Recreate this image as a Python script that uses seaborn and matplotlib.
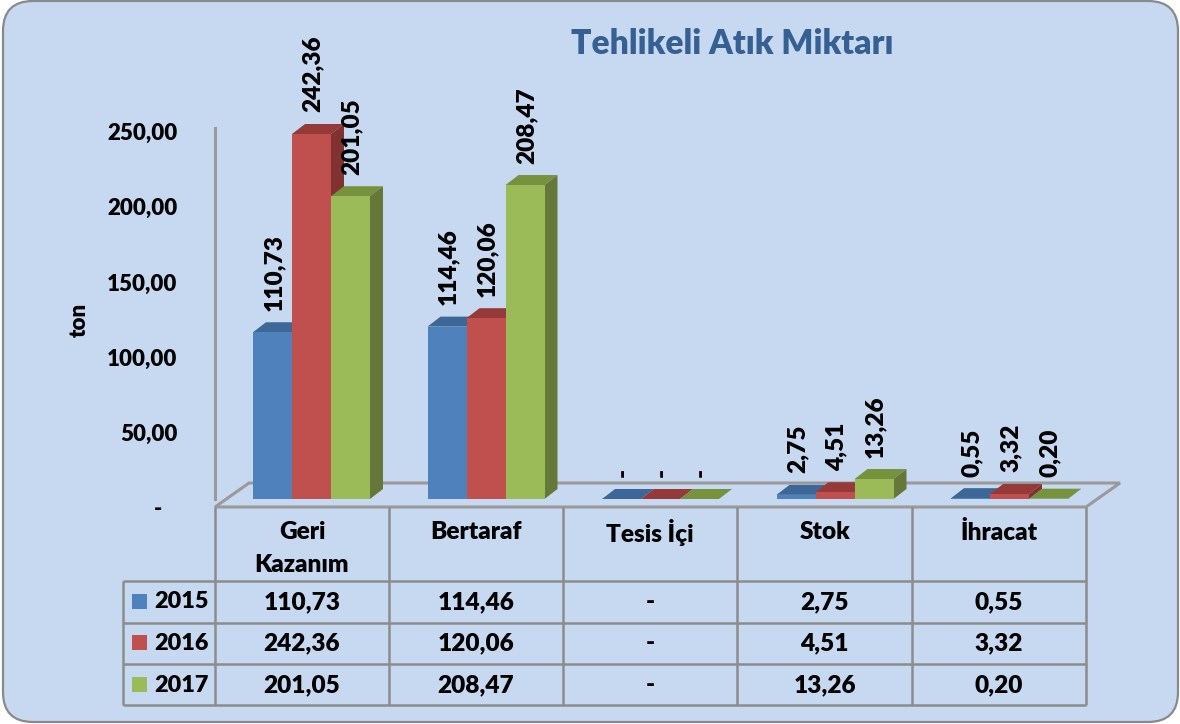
import matplotlib
matplotlib.use("Agg")
import matplotlib.pyplot as plt
from matplotlib.patches import FancyBboxPatch, Polygon, Rectangle
from matplotlib.transforms import ScaledTranslation
import seaborn as sns
import pandas as pd

categories = ["Geri\nKazanım", "Bertaraf", "Tesis İçi", "Stok", "İhracat"]
years = ["2015", "2016", "2017"]
values_2015 = [110.73, 114.46, 0, 2.75, 0.55]
values_2016 = [242.36, 120.06, 0, 4.51, 3.32]
values_2017 = [201.05, 208.47, 0, 13.26, 0.20]
y_ticks = [0, 50, 100, 150, 200, 250]
title = "Tehlikeli Atık Miktarı"
y_label = "ton"

front_colors = ["#4f81bd", "#c0504d", "#9bbb59"]
top_colors = ["#3d6796", "#953a38", "#76923c"]
side_colors = ["#3a5f8c", "#7f3230", "#66773a"]
BG = "#c6d9f1"
GRID = "#8c8c8c"
TEXT = "#000000"
FONT = "Lato"
WEIGHT = "heavy"

sns.set_theme(style="white")
plt.rcParams["font.family"] = [FONT, "DejaVu Sans"]
plt.rcParams["font.weight"] = "bold"

W, H = 1180, 724
fig = plt.figure(figsize=(W / 100, H / 100), dpi=100, facecolor="white")


def fmt(v):
    return "-" if v == 0 else f"{v:.2f}".replace(".", ",")


# background layer in pixel coordinates: frame, floor, table
bg = fig.add_axes([0, 0, 1, 1], zorder=0)
bg.set_xlim(0, W)
bg.set_ylim(H, 0)
bg.axis("off")
bg.add_patch(FancyBboxPatch((3, 1), 1175, 721, boxstyle="round,pad=0,rounding_size=1",
                            mutation_scale=30, fc=BG, ec="#8a8a8a", lw=1.6))
bg.add_patch(Polygon([(215, 507), (1086, 507), (1120, 483), (249, 483)], closed=True,
                     fc=BG, ec="#9a9a9a", lw=2.2))
col_x = [215, 389, 563, 737, 912, 1086]
row_y = [581, 623, 664, 705]
for x in col_x:
    bg.plot([x, x], [507, 705], color=GRID, lw=1.8, solid_capstyle="butt")
bg.plot([123, 123], [581, 705], color=GRID, lw=1.8, solid_capstyle="butt")
for y in row_y:
    bg.plot([123, 1086], [y, y], color=GRID, lw=1.8, solid_capstyle="butt")
bg.text(732, 44, title, color="#376092", fontsize=24.2, ha="center", va="center", fontweight=WEIGHT)

fs = 17.6
fs_tick = 16.0
fs_legend = 16.8
series = [values_2015, values_2016, values_2017]
for i, cat in enumerate(categories):
    cx = (col_x[i] + col_x[i + 1]) / 2
    for j, line in enumerate(cat.split("\n")):
        bg.text(cx, 532 + 33 * j, line, fontsize=fs, color=TEXT, ha="center", va="center", fontweight=WEIGHT)
    for r, vals in enumerate(series):
        bg.text(cx, [602, 643, 685][r], fmt(vals[i]), fontsize=fs, color=TEXT, ha="center", va="center",
                fontweight=WEIGHT)
for r, yr in enumerate(years):
    yc = [602, 643, 685][r]
    bg.add_patch(Rectangle((132, yc - 8), 15, 15, fc=front_colors[r], ec="none"))
    bg.text(154, yc, yr, fontsize=fs_legend, color=TEXT, ha="left", va="center", fontweight=WEIGHT)

# bar axes: x 215..1086 px, y 110..499 px
L, R, T, B = 215, 1086, 110, 499
ax = fig.add_axes([L / W, 1 - B / H, (R - L) / W, (B - T) / H], zorder=1)
ax.patch.set_alpha(0)
px_per_cat = 174.5
px_per_unit = 1.506

df = pd.DataFrame({
    "category": categories * 3,
    "year": [y for y in years for _ in categories],
    "value": values_2015 + values_2016 + values_2017,
})
sns.barplot(data=df, x="category", y="value", hue="year", order=categories, hue_order=years,
            palette=front_colors, saturation=1, width=117 / px_per_cat, gap=0, dodge=True,
            legend=False, linewidth=0, ax=ax)

dx = 13 / px_per_cat
dy = 10 / px_per_unit
n = len(categories)
bars = list(ax.patches)
for k, bar in enumerate(bars):
    s = k // n
    x0, w, h = bar.get_x(), bar.get_width(), bar.get_height()
    z = 3 + s
    bar.set_zorder(z + 0.2)
    ax.add_patch(Polygon([(x0, h), (x0 + w, h), (x0 + w + dx, h + dy), (x0 + dx, h + dy)],
                         closed=True, fc=top_colors[s], ec="none", zorder=z, clip_on=False))
    ax.add_patch(Polygon([(x0 + w, 0), (x0 + w + dx, dy), (x0 + w + dx, h + dy), (x0 + w, h)],
                         closed=True, fc=side_colors[s], ec="none", zorder=z, clip_on=False))
    ax.annotate(fmt(h), (x0 + w / 2, h), xytext=(1.0, 15.5), textcoords="offset points",
                rotation=90, ha="center", va="bottom", fontsize=fs, color=TEXT, fontweight=WEIGHT,
                annotation_clip=False, zorder=10)

ax.set_xticks([])
ax.set_xlabel("")
ax.set_yticks(y_ticks)
ax.set_yticklabels([fmt(v) if v else "-   " for v in y_ticks], fontsize=fs_tick, color=TEXT, fontweight=WEIGHT)
ax.set_xlim((L - 311.5) / px_per_cat, (R - 311.5) / px_per_cat)
ax.set_ylim(0, (B - T) / px_per_unit)
ax.tick_params(axis="y", length=0, pad=27)
shift = ScaledTranslation(0, -0.09, fig.dpi_scale_trans)
for lab in ax.get_yticklabels():
    lab.set_transform(lab.get_transform() + shift)
ax.set_ylabel(y_label, fontsize=fs_tick, color=TEXT, fontweight=WEIGHT, va="center")
ax.yaxis.set_label_coords((79 - L) / (R - L), (B - 320) / (B - T))
for name in ["top", "right", "bottom"]:
    ax.spines[name].set_visible(False)
ax.spines["left"].set_color("#9a9a9a")
ax.spines["left"].set_linewidth(2.2)
ax.spines["left"].set_bounds(0, (B - 128) / px_per_unit)

fig.savefig("out.png", dpi=100, facecolor="white")
